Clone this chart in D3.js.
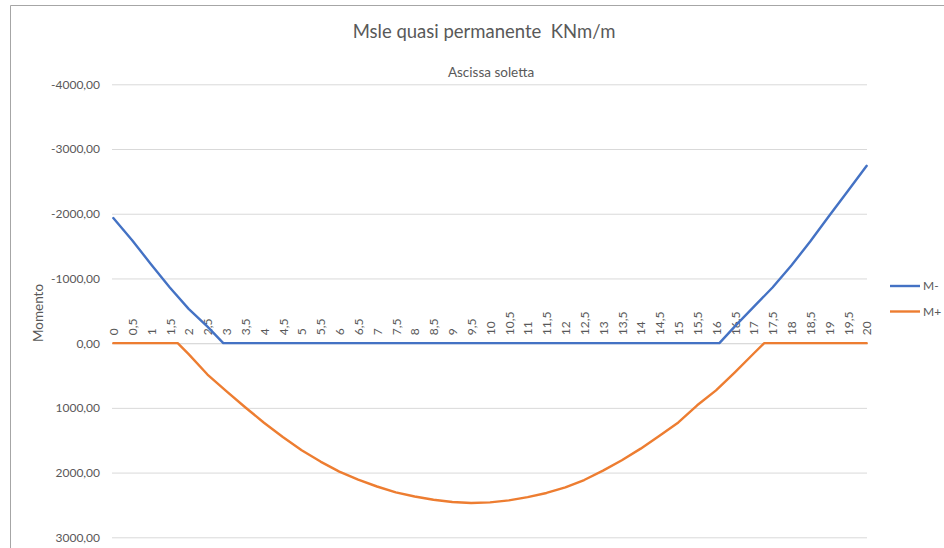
<!DOCTYPE html>
<html><head><meta charset="utf-8">
<script src="https://cdn.jsdelivr.net/npm/d3@7"></script>
<style>
body{margin:0;background:#fff;}
svg{display:block;font-family:Lato,"Open Sans",sans-serif;}
text{white-space:pre;}
</style>
</head><body>
<svg id="chart" width="944" height="548"></svg>
<script>
// ---- data ----
const xTickValues = [0,0.5,1,1.5,2,2.5,3,3.5,4,4.5,5,5.5,6,6.5,7,7.5,8,8.5,9,9.5,10,10.5,11,11.5,12,12.5,13,13.5,14,14.5,15,15.5,16,16.5,17,17.5,18,18.5,19,19.5,20];
const yTickValues = [-4000,-3000,-2000,-1000,0,1000,2000,3000];
const seriesNames = ["M-","M+"];
const mMinusX = [0,0.5,1,1.5,2,2.5,2.92,16.09,16.5,17,17.5,18,18.5,19,19.5,20];
const mMinusV = [-1933,-1590,-1220,-860,-530,-255,0,0,-260,-560,-860,-1200,-1570,-1965,-2350,-2740];
const mPlusX = [0,1.71,2,2.5,3,3.5,4,4.5,5,5.5,6,6.5,7,7.5,8,8.5,9,9.5,10,10.5,11,11.5,12,12.5,13,13.5,14,14.5,15,15.5,16,16.5,17,17.28,20];
const mPlusV = [0,0,170,485,740,990,1230,1450,1655,1830,1985,2110,2215,2305,2370,2420,2455,2470,2460,2430,2380,2315,2230,2115,1970,1810,1630,1430,1225,960,730,450,160,0,0];
const colors = ["#4472C4","#ED7D31"];

// ---- drawing ----
const svg = d3.select("#chart");
const txt = "#595959";
const loc = d3.formatLocale({decimal:",",thousands:"",grouping:[3],currency:["",""],minus:"-"});
const fy = loc.format(".2f");
const fx = d => String(d).replace(".", ",");

const x = d3.scaleLinear().domain([0,20]).range([113.3,866.7]);
const y = d3.scaleLinear().domain([-4000,3000]).range([84.3,537.3]);

// chart area border
svg.append("rect").attr("x",0).attr("y",0).attr("width",944).attr("height",548).attr("fill","#fff");
svg.append("path").attr("d","M10.5,548 V5.5 H944").attr("fill","none").attr("stroke","#a6a6a6").attr("stroke-width",1);

// titles
svg.append("text").attr("x",484).attr("y",38).attr("text-anchor","middle")
  .attr("font-size",18.5).attr("fill",txt).text("Msle quasi permanente  KNm/m");
svg.append("text").attr("x",491).attr("y",77).attr("text-anchor","middle")
  .attr("font-size",13.5).attr("fill",txt).text("Ascissa soletta");
svg.append("text").attr("transform","translate(43,313) rotate(-90)").attr("text-anchor","middle")
  .attr("font-size",13.5).attr("fill",txt).text("Momento");

// gridlines + y labels
const yAxis = d3.axisLeft(y).tickValues(yTickValues).tickFormat(fy).tickSize(-(867-112)).tickPadding(12);
const gy = svg.append("g").attr("transform","translate(112,0)").call(yAxis);
gy.select(".domain").remove();
gy.selectAll(".tick line").attr("stroke","#d9d9d9").attr("stroke-width",1);
gy.selectAll(".tick text").attr("fill",txt).attr("font-size",12).attr("font-family","Lato,'Open Sans',sans-serif");

// x axis labels (rotated, above zero line)
const xAxis = d3.axisTop(x).tickValues(xTickValues).tickFormat(fx).tickSize(0).tickPadding(0);
const gx = svg.append("g").attr("transform",`translate(0,${y(0)})`).call(xAxis);
gx.select(".domain").attr("stroke","#d9d9d9");
gx.selectAll(".tick text").attr("fill",txt).attr("font-size",12).attr("font-family","Lato,'Open Sans',sans-serif")
  .attr("text-anchor","start").attr("dy","0.35em").attr("transform","rotate(-90) translate(8,0)").attr("x",0).attr("y",0);

// lines
const line = d3.line().x(d=>x(d[0])).y(d=>y(d[1]));
const dataMinus = mMinusX.map((v,i)=>[v,mMinusV[i]]);
const dataPlus = mPlusX.map((v,i)=>[v,mPlusV[i]]);
[dataMinus,dataPlus].forEach((d,i)=>{
  svg.append("path").datum(d).attr("d",line).attr("fill","none").attr("stroke",colors[i])
    .attr("stroke-width",2.4).attr("stroke-linejoin","round").attr("stroke-linecap","round");
});

// legend
seriesNames.forEach((n,i)=>{
  const ly = 286 + i*25.5;
  svg.append("line").attr("x1",890).attr("x2",920).attr("y1",ly).attr("y2",ly).attr("stroke",colors[i]).attr("stroke-width",2.4);
  svg.append("text").attr("x",923).attr("y",ly).attr("dy","0.35em").attr("font-size",12).attr("fill",txt).text(n);
});
</script>
</body></html>
